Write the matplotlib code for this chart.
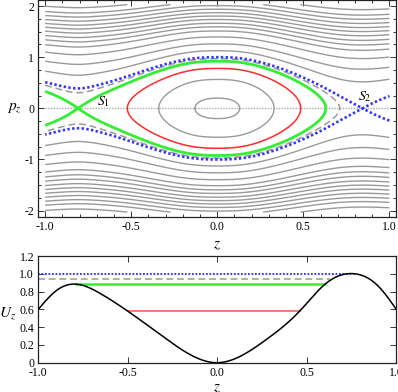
import numpy as np
import matplotlib
matplotlib.use("Agg")
import matplotlib.pyplot as plt
from matplotlib.ticker import MultipleLocator, FixedLocator, FixedFormatter

plt.rcParams['mathtext.fontset'] = 'stix'
plt.rcParams['font.family'] = ['Liberation Serif', 'DejaVu Serif']
plt.rcParams['axes.unicode_minus'] = False

# ---------------- data ----------------
# effective potential of the phase portrait (top panel), knots
z_top = [-1.0, -0.9, -0.81, -0.7, -0.53, -0.34, -0.13, 0.0, 0.13, 0.33, 0.49, 0.63, 0.707, 0.868, 1.0]
V_top = [0.74, 0.815, 0.85, 0.80, 0.62, 0.32, 0.04, 0.0, 0.04, 0.32, 0.62, 0.85, 0.94, 1.0, 0.945]

# potential U_z (bottom panel), knots
z_bot = [-1.0, -0.9, -0.79, -0.655, -0.5, -0.28, 0.0, 0.27, 0.46, 0.60, 0.77, 0.9, 1.0]
U_bot = [0.60, 0.81, 0.884, 0.78, 0.58, 0.26, 0.0, 0.255, 0.58, 0.88, 1.0, 0.86, 0.60]

# energies of the grey phase curves
E_inner = [0.04, 0.32]
E_outer = [1.27, 1.59, 1.95, 2.29, 2.54, 2.77, 3.02, 3.26, 3.50, 3.76, 4.04, 4.33, 4.73]
E_red = 0.61
E_dash = 0.944

# horizontal energy lines in the bottom panel: level, start z, end z
blue_line = (1.0, -1.0, 0.77)
dash_line = (0.944, -1.0, 0.63)
green_line = (0.884, -0.79, 0.60)
red_line = (0.58, -0.5, 0.46)

x_ticks = [-1.0, -0.5, 0.0, 0.5, 1.0]
x_labels = ['-1.0', '-0.5', '0.0', '0.5', '1.0']
p_ticks = [-2, -1, 0, 1, 2]
p_labels = ['-2', '-1', '0', '1', '2']
u_ticks = [0, 0.2, 0.4, 0.6, 0.8, 1.0, 1.2]
u_labels = ['0', '0.2', '0.4', '0.6', '0.8', '1.0', '1.2']


def natural_spline(xk, yk, x):
    xk = np.asarray(xk, float)
    yk = np.asarray(yk, float)
    n = len(xk)
    h = np.diff(xk)
    A = np.zeros((n, n))
    b = np.zeros(n)
    A[0, 0] = 1
    A[-1, -1] = 1
    for i in range(1, n - 1):
        A[i, i - 1] = h[i - 1]
        A[i, i] = 2 * (h[i - 1] + h[i])
        A[i, i + 1] = h[i]
        b[i] = 3 * ((yk[i + 1] - yk[i]) / h[i] - (yk[i] - yk[i - 1]) / h[i - 1])
    c = np.linalg.solve(A, b)
    bc = (yk[1:] - yk[:-1]) / h - h * (2 * c[:-1] + c[1:]) / 3
    d = (c[1:] - c[:-1]) / (3 * h)
    idx = np.clip(np.searchsorted(xk, x) - 1, 0, n - 2)
    dx = x - xk[idx]
    return yk[idx] + bc[idx] * dx + c[idx] * dx ** 2 + d[idx] * dx ** 3


GRAY = '#9a9a9a'
RED = '#ff2a2a'
GREEN = '#33ee33'
BLUE = '#3434ff'

fig = plt.figure(figsize=(3.98, 3.92), dpi=100)
ax1 = fig.add_axes([0.0962, 0.4472, 0.8995, 0.5528])
ax2 = fig.add_axes([0.0962, 0.0747, 0.8995, 0.2722])

# ---------------- top: phase portrait ----------------
zg = np.linspace(-1.0, 1.0, 1601)
pg = np.linspace(-2.03, 2.03, 1201)
Z, P = np.meshgrid(zg, pg)
Vg = natural_spline(z_top, V_top, zg)
H = P ** 2 + Vg[None, :]

left = zg < 0
E_green = Vg[left].max()
right = zg > 0.5
E_blue = Vg[right].max()

ax1.axhline(0, xmin=(1.04 - 1.0) / 2.08, xmax=(1.04 + 1.0) / 2.08, color='#aaaaaa',
            lw=1.0, ls=(0, (1, 1)), zorder=1)
ax1.contour(Z, P, H, levels=E_inner, colors=GRAY, linewidths=1.0, zorder=2)
ax1.contour(Z, P, H, levels=E_outer, colors=GRAY, linewidths=1.0, zorder=2)
ax1.contour(Z, P, H, levels=[E_red], colors=RED, linewidths=1.1, zorder=3)
cd = ax1.contour(Z, P, H, levels=[E_dash], colors=GRAY, linewidths=1.1, zorder=3)
cd.set_linestyle((0, (4.5, 2.5)))
ax1.contour(Z, P, H, levels=[E_green], colors=GREEN, linewidths=2.0, zorder=4)
cb = ax1.contour(Z, P, H, levels=[E_blue], colors=BLUE, linewidths=1.9, zorder=5)
cb.set_linestyle((0, (0.9, 0.9)))

ax1.text(-0.66, 0.14, r'$S_1$', fontsize=10, ha='center', va='center')
ax1.text(0.857, 0.23, r'$S_2$', fontsize=10, ha='center', va='center')

ax1.set_xlim(-1.04, 1.04)
ax1.set_ylim(-2.12, 2.12)
ax1.xaxis.set_major_locator(FixedLocator(x_ticks))
ax1.xaxis.set_major_formatter(FixedFormatter(x_labels))
ax1.xaxis.set_minor_locator(MultipleLocator(0.1))
ax1.yaxis.set_major_locator(FixedLocator(p_ticks))
ax1.yaxis.set_major_formatter(FixedFormatter(p_labels))
ax1.yaxis.set_minor_locator(MultipleLocator(0.25))
ax1.set_xlabel(r'$z$', fontsize=11)
ax1.xaxis.set_label_coords(0.5, -0.105)
ax1.set_ylabel(r'$p_z$', fontsize=11, rotation=0, va='center', ha='center')
ax1.yaxis.set_label_coords(-0.068, 0.5)

# ---------------- bottom: potential ----------------
zb = np.linspace(-1.0, 1.0, 801)
Ub = natural_spline(z_bot, U_bot, zb)
for (lvl, z0, z1), col, lw, ls in [
        (blue_line, BLUE, 1.4, (0, (0.9, 0.9))),
        (dash_line, GRAY, 1.1, (0, (4.5, 2.5))),
        (green_line, GREEN, 1.8, '-'),
        (red_line, '#ff6a6a', 1.3, '-')]:
    ax2.plot([z0, z1], [lvl, lvl], color=col, lw=lw, ls=ls, zorder=2)
ax2.plot(zb, Ub, color='black', lw=1.1, zorder=3)
ax2.set_xlim(-1.0, 1.0)
ax2.set_ylim(0, 1.2)
ax2.xaxis.set_major_locator(FixedLocator(x_ticks))
ax2.xaxis.set_major_formatter(FixedFormatter(x_labels))
ax2.yaxis.set_major_locator(FixedLocator(u_ticks))
ax2.yaxis.set_major_formatter(FixedFormatter(u_labels))
ax2.set_xlabel(r'$z$', fontsize=11)
ax2.xaxis.set_label_coords(0.5, -0.185)
ax2.set_ylabel(r'$U_z$', fontsize=11, rotation=0, va='center', ha='center')
ax2.yaxis.set_label_coords(-0.085, 0.466)

for ax in (ax1, ax2):
    ax.tick_params(which='both', direction='in', top=True, right=True,
                   labelsize=8.5, width=0.7, color='#333333', pad=3)
    ax.tick_params(which='major', length=4)
    ax.tick_params(which='minor', length=2)
    for s in ax.spines.values():
        s.set_linewidth(0.9)
        s.set_color('#222222')

fig.savefig('out.png', dpi=100)
